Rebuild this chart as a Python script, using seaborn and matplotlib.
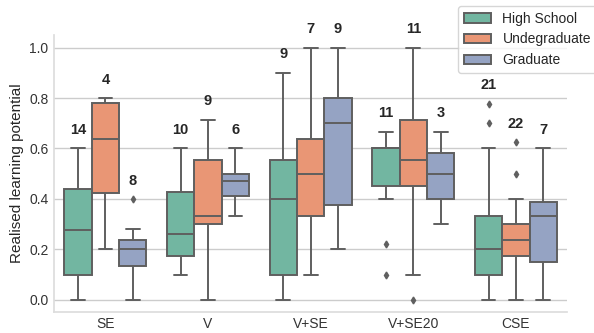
import numpy as np
import pandas as pd
import matplotlib
matplotlib.use("Agg")
import matplotlib.pyplot as plt
import seaborn as sns

conditions = ["SE", "V", "V+SE", "V+SE20", "CSE"]
education = ["High School", "Undegraduate", "Graduate"]

# Realised learning potential per participant, by condition and education level
se_high_school = [0, 0, 0.1, 0.1, 0.1, 0.2, 0.25, 0.3, 0.4, 0.4, 0.45, 0.5, 0.6, 0.6]
se_undergraduate = [0.2, 0.5, 0.775, 0.8]
se_graduate = [0, 0.13, 0.135, 0.2, 0.2, 0.222, 0.28, 0.4]

v_high_school = [0.1, 0.15, 0.167, 0.2, 0.25, 0.273, 0.4, 0.435, 0.5, 0.6]
v_undergraduate = [0, 0.2, 0.3, 0.3, 0.333, 0.4, 0.556, 0.6, 0.714]
v_graduate = [0.333, 0.4, 0.444, 0.5, 0.5, 0.6]

vse_high_school = [0, 0.1, 0.1, 0.2, 0.4, 0.5, 0.556, 0.7, 0.9]
vse_undergraduate = [0.1, 0.333, 0.333, 0.5, 0.611, 0.667, 1.0]
vse_graduate = [0.2, 0.3, 0.375, 0.5, 0.7, 0.75, 0.8, 0.9, 1.0]

vse20_high_school = [0.1, 0.222, 0.4, 0.5, 0.556, 0.6, 0.6, 0.6, 0.6, 0.667, 0.667]
vse20_undergraduate = [0, 0.1, 0.4, 0.5, 0.5, 0.556, 0.6, 0.714, 0.714, 0.8, 1.0]
vse20_graduate = [0.3, 0.5, 0.667]

cse_high_school = [0, 0, 0, 0.1, 0.1, 0.1, 0.1, 0.125, 0.143, 0.167, 0.2,
                   0.2, 0.222, 0.25, 0.3, 0.333, 0.4, 0.5, 0.6, 0.7, 0.778]
cse_undergraduate = [0, 0, 0.1, 0.125, 0.143, 0.167, 0.2, 0.2, 0.2, 0.222, 0.222,
                     0.25, 0.25, 0.286, 0.3, 0.3, 0.3, 0.333, 0.4, 0.4, 0.5, 0.625]
cse_graduate = [0, 0.1, 0.2, 0.333, 0.375, 0.4, 0.6]

groups = {
    ("SE", "High School"): se_high_school,
    ("SE", "Undegraduate"): se_undergraduate,
    ("SE", "Graduate"): se_graduate,
    ("V", "High School"): v_high_school,
    ("V", "Undegraduate"): v_undergraduate,
    ("V", "Graduate"): v_graduate,
    ("V+SE", "High School"): vse_high_school,
    ("V+SE", "Undegraduate"): vse_undergraduate,
    ("V+SE", "Graduate"): vse_graduate,
    ("V+SE20", "High School"): vse20_high_school,
    ("V+SE20", "Undegraduate"): vse20_undergraduate,
    ("V+SE20", "Graduate"): vse20_graduate,
    ("CSE", "High School"): cse_high_school,
    ("CSE", "Undegraduate"): cse_undergraduate,
    ("CSE", "Graduate"): cse_graduate,
}

rows = []
for (cond, edu), values in groups.items():
    for v in values:
        rows.append({"condition": cond, "education": edu, "potential": v})
df = pd.DataFrame(rows)

sns.set_theme(style="whitegrid")
plt.rcParams["font.family"] = ["Liberation Sans", "DejaVu Sans"]

fig = plt.figure(figsize=(5.94, 3.33), dpi=100)
ax = fig.add_axes([0.091, 0.062, 0.864, 0.833])

sns.boxplot(
    data=df, x="condition", y="potential", hue="education",
    order=conditions, hue_order=education, palette="Set2", saturation=0.75,
    linewidth=1.4, linecolor="#5f5f5f", width=0.8,
    flierprops=dict(marker="d", markersize=3.5, markerfacecolor="#5f5f5f",
                    markeredgecolor="#5f5f5f"),
    ax=ax,
)

ax.set_ylim(-0.05, 1.05)
ax.set_yticks([0.0, 0.2, 0.4, 0.6, 0.8, 1.0])
ax.set_xlabel("")
ax.set_ylabel("Realised learning potential", fontsize=11, labelpad=4)
ax.tick_params(axis="both", labelsize=10, colors="#333333", length=0)
ax.tick_params(axis="x", pad=3)
ax.tick_params(axis="y", pad=4)
ax.grid(axis="x", visible=False)
sns.despine(ax=ax)
for side in ["left", "bottom"]:
    ax.spines[side].set_color("#dddddd")

# group sizes above each box
offsets = [-0.8 / 3, 0, 0.8 / 3]
for i, cond in enumerate(conditions):
    for j, edu in enumerate(education):
        vals = groups[(cond, edu)]
        ax.text(i + offsets[j], max(vals) + 0.045, str(len(vals)),
                ha="center", va="bottom", fontsize=10.5, fontweight="bold",
                clip_on=False)

ax.legend(loc="upper left", bbox_to_anchor=(0.771, 0.982),
          bbox_transform=fig.transFigure, fontsize=10, frameon=True,
          title=None, borderaxespad=0)

fig.savefig("out.png", dpi=100)
